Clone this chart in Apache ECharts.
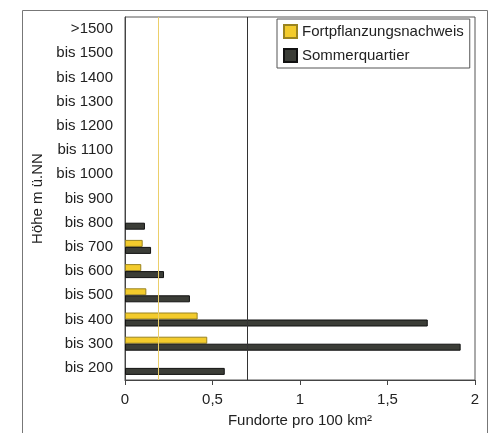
<!DOCTYPE html>
<html>
<head>
<meta charset="utf-8">
<script src="https://cdn.jsdelivr.net/npm/echarts@6/dist/echarts.min.js"></script>
<style>
  html, body { margin: 0; padding: 0; background: #fff; }
  #chart { width: 491px; height: 433px; }
</style>
</head>
<body>
<div id="chart"></div>
<script>
// Höhenstufen von unten nach oben
const categories = ["bis 200", "bis 300", "bis 400", "bis 500", "bis 600", "bis 700", "bis 800",
  "bis 900", "bis 1000", "bis 1100", "bis 1200", "bis 1300", "bis 1400", "bis 1500", ">1500"];
const fortpflanzung = [0, 0.47, 0.415, 0.122, 0.093, 0.101, 0, 0, 0, 0, 0, 0, 0, 0, 0];
const sommer = [0.57, 1.918, 1.73, 0.371, 0.223, 0.149, 0.114, 0, 0, 0, 0, 0, 0, 0, 0];
// Mittelwerte (senkrechte Linien)
const meanFortpflanzung = 0.19;
const meanSommer = 0.705;
const xTicks = [0, 0.5, 1, 1.5, 2];

const font = "Liberation Sans, Arial, sans-serif";
const myChart = echarts.init(document.getElementById("chart"));

const option = {
  animation: false,
  textStyle: { fontFamily: font, color: "#222" },
  graphic: [
    {
      type: "rect",
      shape: { x: 22.5, y: 10.5, width: 465, height: 440 },
      style: { fill: "none", stroke: "#777", lineWidth: 1 },
      silent: true,
    },
  ],
  grid: {
    left: 125,
    right: 16,
    top: 17,
    bottom: 53,
    show: true,
    borderColor: "#555",
    borderWidth: 1,
  },
  legend: {
    orient: "vertical",
    left: 277,
    top: 19,
    data: ["Fortpflanzungsnachweis", "Sommerquartier"],
    backgroundColor: "#fff",
    borderColor: "#555",
    borderWidth: 1,
    padding: [5, 6, 5, 6],
    itemWidth: 13,
    itemHeight: 13,
    itemGap: 9,
    icon: "rect",
    textStyle: { fontFamily: font, fontSize: 15, color: "#222" },
  },
  xAxis: {
    type: "value",
    min: 0,
    max: 2,
    interval: 0.5,
    name: "Fundorte pro 100 km²",
    nameLocation: "middle",
    nameGap: 33,
    nameTextStyle: { fontFamily: font, fontSize: 15, color: "#222" },
    axisLine: { show: true, lineStyle: { color: "#444" } },
    axisTick: { show: true, length: 5, lineStyle: { color: "#444" } },
    splitLine: { show: false },
    axisLabel: {
      fontSize: 15,
      color: "#222",
      margin: 12,
      formatter: (v) => (xTicks.includes(v) ? String(v).replace(".", ",") : ""),
    },
  },
  yAxis: {
    type: "category",
    data: categories,
    name: "Höhe m ü.NN",
    nameLocation: "middle",
    nameGap: 73,
    nameTextStyle: { fontFamily: font, fontSize: 15, color: "#222" },
    axisLine: { show: true, lineStyle: { color: "#444" } },
    axisTick: { show: false },
    axisLabel: { fontSize: 15, color: "#222", margin: 12 },
  },
  series: [
    {
      name: "Fortpflanzungsnachweis",
      type: "bar",
      barWidth: 7,
      barGap: "0%",
      itemStyle: { color: "#f3cb2c", borderColor: "#9a8420", borderWidth: 1 },
      data: fortpflanzung.map((v) => (v === 0 ? null : v)),
      markLine: {
        silent: true,
        symbol: "none",
        label: { show: false },
        lineStyle: { color: "#eccf6a", width: 1, type: "solid" },
        data: [{ xAxis: meanFortpflanzung }],
      },
    },
    {
      name: "Sommerquartier",
      type: "bar",
      barWidth: 7,
      barGap: "0%",
      itemStyle: { color: "#3b3d37", borderColor: "#111", borderWidth: 1 },
      data: sommer.map((v) => (v === 0 ? null : v)),
      markLine: {
        silent: true,
        symbol: "none",
        label: { show: false },
        lineStyle: { color: "#333", width: 1, type: "solid" },
        data: [{ xAxis: meanSommer }],
      },
    },
  ],
};
myChart.setOption(option);
</script>
</body>
</html>
